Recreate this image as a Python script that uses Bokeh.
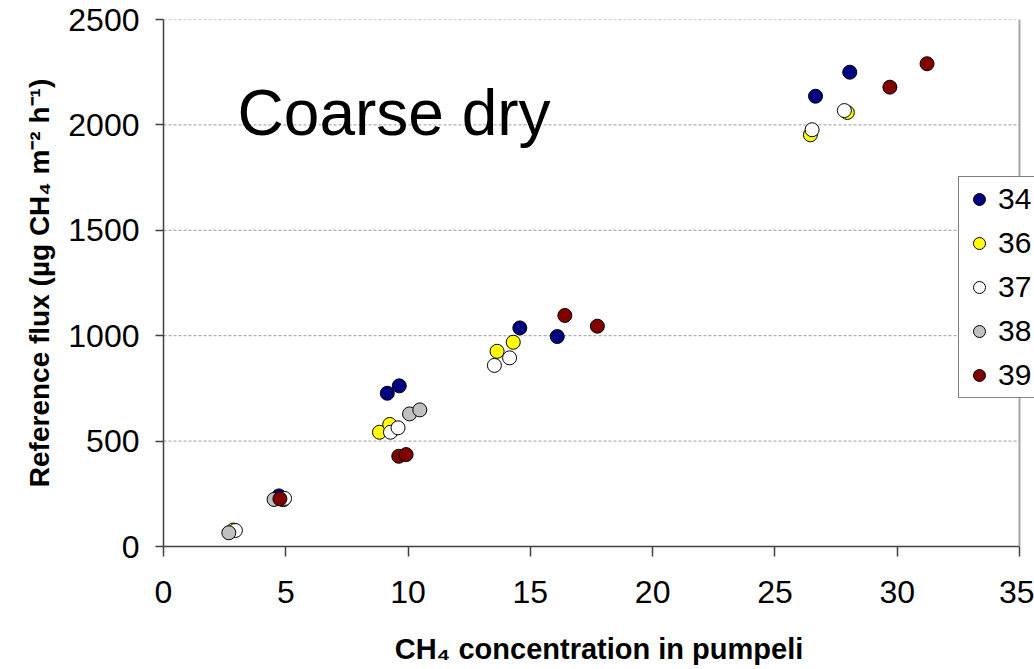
from bokeh.plotting import figure
from bokeh.models import Legend, LegendItem, Label, Span, FixedTicker, Range1d
from bokeh.embed import file_html
from bokeh.resources import INLINE

# ---- data ----
series_names = ["34", "36", "37", "38", "39"]
series_colors = ["#000080", "#FFFF00", "#FFFFFF", "#C0C0C0", "#800000"]

x_34 = [4.72, 9.15, 9.64, 14.57, 16.10, 26.66, 28.06]
y_34 = [240, 727, 762, 1037, 996, 2136, 2250]

x_36 = [2.85, 4.90, 8.83, 9.25, 13.64, 14.30, 26.45, 27.96]
y_36 = [78, 222, 542, 579, 926, 969, 1953, 2059]

x_37 = [2.94, 4.95, 9.28, 9.59, 13.53, 14.15, 26.52, 27.84]
y_37 = [76, 228, 542, 563, 859, 895, 1977, 2068]

x_38 = [2.67, 4.52, 10.06, 10.48]
y_38 = [65, 223, 629, 648]

x_39 = [4.76, 9.62, 9.92, 16.41, 17.74, 29.70, 31.22]
y_39 = [226, 428, 436, 1096, 1045, 2179, 2290]

x_ticks = [0, 5, 10, 15, 20, 25, 30, 35]
y_ticks = [0, 500, 1000, 1500, 2000, 2500]

title_text = "Coarse dry"
x_label = "CH\u2084 concentration in pumpeli"
y_label = "Reference flux (\u00b5g CH\u2084 m\u207b\u00b2 h\u207b\u00b9)"

FONT = "Liberation Sans"

X_MIN, X_MAX = x_ticks[0], x_ticks[-1]
# the frame runs a little past the last tick so the legend box can overhang
X_VIEW_MAX = X_MAX * (1034 - 163) / (1019 - 163)

p = figure(width=1034, height=669, output_backend="svg", toolbar_location=None,
           x_range=Range1d(X_MIN, X_VIEW_MAX), y_range=Range1d(0, 2500),
           min_border_left=163, min_border_right=0, min_border_top=19,
           min_border_bottom=123)
p.outline_line_color = None
p.background_fill_color = "white"
p.border_fill_color = "white"

# grid: dashed horizontal lines across the plot area only (0..35)
p.xgrid.grid_line_color = None
p.ygrid.grid_line_color = None
n = len(y_ticks)
p.segment(x0=[X_MIN] * n, y0=y_ticks, x1=[X_MAX] * n, y1=y_ticks,
          line_color="#9a9a9a", line_dash="3 2", line_width=1)

# axes
p.xaxis.ticker = FixedTicker(ticks=x_ticks)
p.yaxis.ticker = FixedTicker(ticks=y_ticks)
p.xaxis.bounds = (X_MIN, X_MAX)
for ax in (p.xaxis[0], p.yaxis[0]):
    ax.axis_line_color = "#404040"
    ax.axis_line_width = 1.5
    ax.major_tick_line_color = "#404040"
    ax.major_tick_line_width = 1.5
    ax.major_tick_in = 0
    ax.minor_tick_line_color = None
    ax.major_label_text_font = FONT
    ax.major_label_text_font_size = "32px"
    ax.major_label_text_color = "black"
    ax.axis_label_text_font = FONT
    ax.axis_label_text_font_style = "bold"
    ax.axis_label_text_color = "black"

p.xaxis.major_tick_out = 10
p.xaxis.major_label_standoff = 24
p.xaxis.axis_label = x_label
p.xaxis.axis_label_text_font_size = "29px"
p.xaxis.axis_label_standoff = 27

p.yaxis.major_tick_out = 8
p.yaxis.major_label_standoff = 16
p.yaxis.axis_label = y_label
p.yaxis.axis_label_text_font_size = "28px"
p.yaxis.axis_label_standoff = 10

# right border of plot area
p.add_layout(Span(location=X_MAX, dimension="height", line_color="#a6a6a6", line_width=2))

# data
xs = [x_34, x_36, x_37, x_38, x_39]
ys = [y_34, y_36, y_37, y_38, y_39]
items = []
for name, col, xv, yv in zip(series_names, series_colors, xs, ys):
    r = p.scatter(xv, yv, size=14, marker="circle", fill_color=col,
                  line_color="black", line_width=1)
    items.append(LegendItem(label=name, renderers=[r]))

legend = Legend(items=items, location=(795, 148))
legend.label_text_font = FONT
legend.label_text_font_size = "30px"
legend.label_text_color = "black"
legend.glyph_width = 30
legend.glyph_height = 30
legend.label_height = 30
legend.spacing = 10
legend.padding = 5
legend.margin = 0
legend.label_standoff = 4
legend.border_line_color = "black"
legend.border_line_width = 1
legend.background_fill_color = "white"
legend.background_fill_alpha = 1
p.add_layout(legend)

p.add_layout(Label(x=3.03, y=2055, text=title_text, text_font=FONT,
                   text_font_size="64px", text_color="black",
                   text_baseline="alphabetic"))

open("out.html", "w").write(file_html(p, INLINE))
